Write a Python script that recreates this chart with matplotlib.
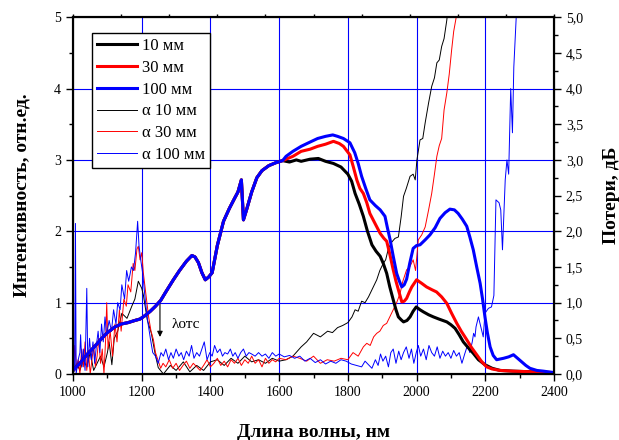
import numpy as np
import matplotlib
matplotlib.use("Agg")
from matplotlib import pyplot as plt
from matplotlib.ticker import MultipleLocator, FixedLocator, FuncFormatter

# region: data
# common part of the three intensity curves (they overlap below ~1600 nm)
common_wl = [1000, 1020, 1040, 1060, 1080, 1100, 1122, 1140, 1160, 1180, 1195, 1210, 1225,
             1240, 1255, 1270, 1292, 1310, 1330, 1346, 1355, 1365, 1375, 1385, 1395, 1405,
             1420, 1438, 1455, 1470, 1480, 1490, 1496, 1505, 1520, 1535, 1550, 1570, 1590, 1610]
common_i = [0.05, 0.15, 0.27, 0.37, 0.48, 0.58, 0.66, 0.70, 0.72, 0.75, 0.77, 0.82, 0.88,
            0.95, 1.03, 1.15, 1.32, 1.45, 1.58, 1.66, 1.64, 1.56, 1.42, 1.32, 1.36, 1.42,
            1.80, 2.14, 2.32, 2.46, 2.55, 2.72, 2.16, 2.30, 2.55, 2.75, 2.85, 2.92, 2.96, 2.99]

wl_10 = [1630, 1650, 1664, 1690, 1714, 1735, 1758, 1780, 1800, 1811, 1821, 1833, 1845, 1857,
         1870, 1882, 1894, 1903, 1913, 1922, 1932, 1940, 1947, 1955, 1962, 1972, 1981, 1990,
         1999, 2010, 2020, 2035, 2049, 2065, 2088, 2100, 2112, 2124, 2136, 2150, 2165, 2180,
         2199, 2220, 2243, 2280, 2340, 2400]
int_10 = [2.97, 3.00, 2.98, 3.01, 3.02, 2.98, 2.95, 2.90, 2.80, 2.70, 2.53, 2.38, 2.21, 2.00,
          1.81, 1.72, 1.65, 1.55, 1.41, 1.22, 1.04, 0.90, 0.80, 0.76, 0.73, 0.75, 0.80, 0.88,
          0.94, 0.90, 0.87, 0.83, 0.80, 0.77, 0.73, 0.69, 0.64, 0.55, 0.45, 0.37, 0.29, 0.20,
          0.13, 0.08, 0.05, 0.04, 0.03, 0.01]

wl_30 = [1640, 1664, 1690, 1712, 1735, 1758, 1775, 1787, 1806, 1816, 1826, 1835, 1845, 1855,
         1864, 1880, 1894, 1905, 1913, 1922, 1932, 1940, 1947, 1957, 1964, 1971, 1979, 1986,
         2000, 2015, 2029, 2045, 2058, 2073, 2088, 2102, 2117, 2130, 2146, 2160, 2175, 2190,
         2204, 2220, 2243, 2280, 2340, 2400]
int_30 = [3.05, 3.12, 3.15, 3.19, 3.22, 3.26, 3.23, 3.19, 3.07, 2.90, 2.72, 2.60, 2.53, 2.40,
          2.25, 2.10, 1.97, 1.90, 1.86, 1.68, 1.46, 1.30, 1.18, 1.01, 1.02, 1.06, 1.15, 1.22,
          1.32, 1.27, 1.22, 1.18, 1.15, 1.08, 0.99, 0.85, 0.71, 0.60, 0.48, 0.37, 0.27, 0.17,
          0.10, 0.07, 0.05, 0.04, 0.03, 0.02]

wl_100 = [1620, 1640, 1664, 1690, 1712, 1735, 1756, 1770, 1787, 1806, 1820, 1830, 1840, 1852,
          1864, 1880, 1894, 1908, 1915, 1923, 1932, 1942, 1950, 1957, 1964, 1971, 1980, 1990,
          2000, 2010, 2025, 2039, 2054, 2068, 2083, 2097, 2110, 2121, 2133, 2146, 2155, 2165,
          2175, 2185, 2192, 2199, 2206, 2214, 2223, 2233, 2243, 2253, 2268, 2282, 2294, 2306,
          2318, 2330, 2350, 2369, 2400]
int_100 = [3.05, 3.12, 3.19, 3.25, 3.30, 3.33, 3.35, 3.33, 3.30, 3.24, 3.10, 2.95, 2.77, 2.60,
           2.44, 2.36, 2.30, 2.21, 2.05, 1.88, 1.65, 1.41, 1.30, 1.22, 1.25, 1.33, 1.55, 1.76,
           1.80, 1.81, 1.88, 1.95, 2.05, 2.18, 2.26, 2.31, 2.30, 2.25, 2.17, 2.07, 1.92, 1.74,
           1.50, 1.27, 1.05, 0.80, 0.58, 0.38, 0.26, 0.20, 0.21, 0.22, 0.24, 0.27, 0.22, 0.17,
           0.12, 0.08, 0.05, 0.04, 0.02]

# losses, dB (right axis)
a_wl_10 = [1000, 1010, 1020, 1030, 1040, 1050, 1060, 1070, 1080, 1090, 1100, 1105, 1113, 1120,
           1130, 1142, 1157, 1171, 1180, 1190, 1200, 1205, 1216, 1228, 1239, 1248, 1263, 1283,
           1300, 1321, 1340, 1360, 1380, 1400, 1420, 1440, 1460, 1480, 1500, 1520, 1540, 1560,
           1580, 1600, 1620, 1640, 1664, 1680, 1700, 1720, 1741, 1755, 1770, 1785, 1800, 1812,
           1821, 1830, 1840, 1850, 1860, 1872, 1884, 1893, 1903, 1910, 1918, 1928, 1937, 1947,
           1955, 1962, 1970, 1981, 1990, 1996, 2001, 2010, 2018, 2025, 2035, 2044, 2052, 2059,
           2066, 2073, 2080, 2088, 2095, 2110]
a_10 = [0.00, 0.15, 0.05, 0.20, 0.10, 0.30, 0.05, 0.15, 0.25, 0.10, 0.30, 0.45, 0.13, 0.50,
        0.60, 0.85, 0.78, 0.95, 1.05, 1.30, 1.20, 1.10, 0.76, 0.57, 0.28, 0.09, 0.00, 0.12,
        0.05, 0.17, 0.03, 0.12, 0.05, 0.17, 0.20, 0.12, 0.22, 0.15, 0.25, 0.17, 0.20, 0.15,
        0.22, 0.18, 0.20, 0.25, 0.38, 0.45, 0.57, 0.52, 0.60, 0.58, 0.65, 0.68, 0.72, 0.80,
        0.90, 0.88, 1.02, 1.00, 1.08, 1.20, 1.32, 1.45, 1.55, 1.60, 1.76, 1.85, 1.90, 1.92,
        2.20, 2.49, 2.60, 2.77, 2.80, 2.72, 3.00, 3.28, 3.30, 3.52, 3.80, 4.03, 4.15, 4.36,
        4.40, 4.59, 4.70, 4.96, 5.30, 5.80]

a_wl_30 = [1000, 1005, 1010, 1015, 1020, 1025, 1030, 1035, 1040, 1045, 1050, 1055, 1060, 1065,
           1070, 1075, 1080, 1085, 1090, 1095, 1098, 1102, 1108, 1115, 1122, 1128, 1135, 1140,
           1148, 1155, 1160, 1168, 1175, 1180, 1186, 1190, 1195, 1200, 1205, 1210, 1214, 1220,
           1227, 1234, 1240, 1248, 1255, 1262, 1270, 1280, 1290, 1300, 1310, 1320, 1330, 1340,
           1350, 1360, 1370, 1380, 1390, 1400, 1410, 1420, 1430, 1440, 1450, 1460, 1470, 1480,
           1490, 1500, 1510, 1520, 1530, 1540, 1550, 1560, 1570, 1580, 1590, 1600, 1620, 1640,
           1660, 1680, 1700, 1720, 1740, 1760, 1780, 1800, 1815, 1830, 1845, 1855, 1865, 1875,
           1884, 1893, 1903, 1913, 1922, 1932, 1942, 1952, 1960, 1971, 1980, 1990, 1997, 2005,
           2015, 2025, 2035, 2044, 2052, 2059, 2066, 2073, 2080, 2088, 2095, 2102, 2108, 2115,
           2125, 2398, 2400]
a_30 = [0.05, 0.40, 0.10, 0.20, 0.00, 0.35, 0.10, 0.45, 0.05, 0.30, 0.00, 0.20, 0.40, 0.10,
        0.25, 0.50, 0.15, 0.35, 0.00, 0.50, 1.00, 0.35, 0.60, 0.25, 0.70, 0.45, 0.90, 0.60,
        1.05, 0.95, 1.25, 1.15, 1.55, 1.45, 1.75, 1.79, 1.60, 1.70, 1.40, 1.20, 1.04, 0.80,
        0.60, 0.48, 0.30, 0.18, 0.08, 0.15, 0.10, 0.20, 0.08, 0.15, 0.05, 0.12, 0.18, 0.08,
        0.15, 0.10, 0.05, 0.12, 0.20, 0.10, 0.15, 0.22, 0.12, 0.18, 0.10, 0.20, 0.15, 0.22,
        0.12, 0.20, 0.15, 0.25, 0.15, 0.20, 0.10, 0.22, 0.15, 0.20, 0.17, 0.22, 0.20, 0.25,
        0.22, 0.18, 0.25, 0.15, 0.20, 0.18, 0.22, 0.20, 0.30, 0.25, 0.38, 0.43, 0.40, 0.52,
        0.57, 0.60, 0.68, 0.71, 0.80, 0.90, 1.00, 1.13, 1.30, 1.46, 1.50, 1.60, 1.45, 1.88,
        1.95, 2.06, 2.30, 2.53, 2.80, 3.05, 3.20, 3.30, 3.70, 3.94, 4.20, 4.54, 4.80, 4.99,
        5.50, 5.50, 4.55]

a_wl_100 = [1000, 1002, 1005, 1007, 1009, 1015, 1020, 1022, 1026, 1030, 1035, 1040, 1043, 1048,
            1053, 1058, 1063, 1068, 1073, 1078, 1083, 1088, 1093, 1098, 1105, 1112, 1118, 1125,
            1130, 1137, 1142, 1150, 1156, 1162, 1170, 1176, 1182, 1188, 1192, 1197, 1203, 1210,
            1217, 1225, 1232, 1240, 1248, 1256, 1263, 1270, 1278, 1285, 1292, 1300, 1308, 1315,
            1322, 1330, 1338, 1345, 1352, 1360, 1368, 1375, 1382, 1390, 1398, 1405, 1412, 1420,
            1428, 1435, 1442, 1450, 1458, 1465, 1472, 1480, 1488, 1496, 1504, 1512, 1520, 1530,
            1540, 1550, 1560, 1570, 1580, 1590, 1600, 1615, 1630, 1645, 1660, 1675, 1690, 1705,
            1720, 1735, 1750, 1765, 1780, 1795, 1810, 1825, 1840, 1850, 1860, 1870, 1880, 1888,
            1895, 1902, 1910, 1918, 1925, 1932, 1940, 1948, 1955, 1962, 1970, 1978, 1985, 1992,
            1999, 2005, 2012, 2020, 2028, 2036, 2044, 2052, 2060, 2068, 2076, 2084, 2092, 2100,
            2108, 2116, 2124, 2132, 2140, 2148, 2155, 2162, 2166, 2170, 2173, 2180, 2185, 2190,
            2194, 2199, 2209, 2218, 2225, 2231, 2240, 2245, 2250, 2258, 2263, 2268, 2274, 2279,
            2283, 2290, 2296]
a_100 = [3.45, 0.05, 0.10, 2.11, 0.00, 0.20, 0.30, 0.55, 0.10, 0.35, 0.05, 1.20, 0.10, 0.50,
         0.20, 0.45, 0.15, 0.40, 0.60, 0.30, 0.70, 0.45, 0.80, 0.55, 0.75, 0.60, 0.90, 0.70,
         1.00, 0.90, 1.25, 1.05, 1.45, 1.30, 1.50, 1.45, 1.70, 2.14, 1.80, 1.60, 1.40, 1.05,
         0.75, 0.50, 0.30, 0.25, 0.15, 0.30, 0.25, 0.35, 0.20, 0.30, 0.22, 0.35, 0.25, 0.30,
         0.20, 0.32, 0.25, 0.40, 0.22, 0.30, 0.25, 0.35, 0.45, 0.20, 0.30, 0.25, 0.40, 0.30,
         0.35, 0.25, 0.30, 0.28, 0.35, 0.25, 0.30, 0.22, 0.30, 0.35, 0.25, 0.30, 0.28, 0.25,
         0.30, 0.25, 0.28, 0.22, 0.30, 0.25, 0.28, 0.24, 0.26, 0.22, 0.25, 0.18, 0.22, 0.16,
         0.20, 0.14, 0.18, 0.15, 0.20, 0.18, 0.14, 0.12, 0.10, 0.18, 0.13, 0.08, 0.20, 0.12,
         0.28, 0.18, 0.25, 0.10, 0.30, 0.35, 0.15, 0.32, 0.20, 0.30, 0.38, 0.22, 0.35, 0.15,
         0.30, 0.40, 0.25, 0.35, 0.20, 0.40, 0.30, 0.25, 0.38, 0.22, 0.32, 0.25, 0.30, 0.22,
         0.33, 0.25, 0.30, 0.15, 0.28, 0.40, 0.30, 0.45, 0.57, 0.52, 0.66, 0.80, 0.70, 0.60,
         0.52, 0.85, 0.92, 0.94, 1.10, 2.44, 2.40, 2.30, 1.74, 2.72, 3.00, 2.80, 4.00, 3.38,
         4.30, 5.00, 5.50]
# endregion

# region: plot
plt.rcParams['font.family'] = ['Liberation Serif', 'DejaVu Serif']

fig = plt.figure(figsize=(6.19, 4.40), dpi=100)
ax = fig.add_axes([0.118, 0.15, 0.777, 0.811])

grid_col = '#0000ff'
for gx in [1200, 1400, 1600, 1800, 2000, 2200]:
    ax.axvline(gx, color=grid_col, lw=0.8, zorder=0)
for gy in [1, 2, 3, 4]:
    ax.axhline(gy, color=grid_col, lw=0.8, zorder=0)

ax.plot(common_wl + wl_10, common_i + int_10, color='black', lw=2.2, label='10 мм', zorder=4)
ax.plot(common_wl + wl_30, common_i + int_30, color='red', lw=2.2, label='30 мм', zorder=5)
ax.plot(common_wl + wl_100, common_i + int_100, color='blue', lw=2.2, label='100 мм', zorder=6)
ax.plot(a_wl_10, a_10, color='black', lw=0.7, label='α 10 мм', zorder=3)
ax.plot(a_wl_30, a_30, color='red', lw=0.7, label='α 30 мм', zorder=3)
ax.plot(a_wl_100, a_100, color='blue', lw=0.7, label='α 100 мм', zorder=3)

ax.annotate('', xy=(1253, 0.48), xytext=(1253, 1.02),
            arrowprops=dict(arrowstyle='-|>', color='black', lw=0.8, mutation_scale=8))
ax.text(1288, 0.69, 'λотс', fontsize=11, va='center', ha='left')

ax.set_xlim(1000, 2400)
ax.set_ylim(0, 5)
ax.xaxis.set_major_locator(MultipleLocator(200))
ax.xaxis.set_minor_locator(MultipleLocator(100))
ax.yaxis.set_major_locator(MultipleLocator(1))
ax.yaxis.set_minor_locator(MultipleLocator(0.5))
ax.tick_params(which='major', direction='out', length=5, width=1, labelsize=10)
ax.tick_params(which='minor', direction='out', length=3, width=1)
for s in ax.spines.values():
    s.set_linewidth(1.5)

ax.set_xlabel('Длина волны, нм', fontsize=14, fontweight='bold', labelpad=18)
ax.set_ylabel('Интенсивность, отн.ед.', fontsize=14, fontweight='bold', labelpad=17)

# right axis: losses
ax2 = ax.twinx()
ax2.set_ylim(0, 5)
ax2.yaxis.set_major_locator(MultipleLocator(0.5))
ax2.yaxis.set_minor_locator(MultipleLocator(0.25))
ax2.yaxis.set_major_formatter(FuncFormatter(lambda v, p: f'{v:.1f}'.replace('.', ',')))
ax2.tick_params(which='major', direction='out', length=5, width=1, labelsize=10)
ax2.tick_params(which='minor', direction='out', length=3, width=1)
ax2.set_ylabel('Потери, дБ', fontsize=14, fontweight='bold', labelpad=14)
for s in ax2.spines.values():
    s.set_linewidth(1.5)

# small ticks on the top frame
ax3 = ax.twiny()
ax3.set_xlim(1000, 2400)
ax3.xaxis.set_major_locator(FixedLocator(np.arange(1000, 2401, 140)))
ax3.tick_params(direction='out', length=2, width=1, labeltop=False)

leg = ax.legend(loc='upper left', bbox_to_anchor=(0.039, 0.956), borderaxespad=0,
                fontsize=12, handlelength=2.4, labelspacing=0.35, handletextpad=0.3,
                fancybox=False, framealpha=1, edgecolor='black', borderpad=0.3)
leg.get_frame().set_linewidth(1.0)
leg.set_zorder(10)

fig.savefig('out.png', dpi=100)
# endregion
